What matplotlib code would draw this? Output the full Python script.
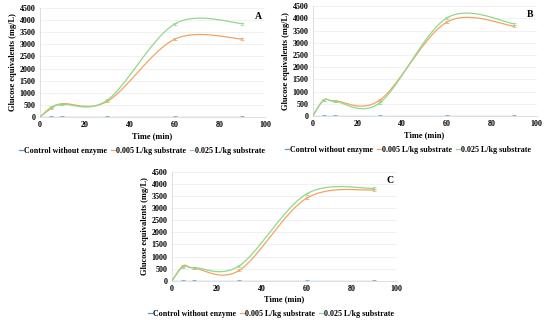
import numpy as np
import matplotlib
matplotlib.use("Agg")
import matplotlib.pyplot as plt
from matplotlib.lines import Line2D

time_min = [0, 5, 10, 30, 60, 90]
series_names = ["Control without enzyme", "0.005 L/kg substrate", "0.025 L/kg substrate"]
colors = ["#5B9BD5", "#F4A460", "#8FD98F"]

A_control = [0, 0, 0, 0, 0, 0]
A_low = [0, 350, 550, 650, 3220, 3220]
A_high = [0, 400, 520, 700, 3850, 3860]

B_control = [0, 0, 0, 0, 0, 0]
B_low = [0, 650, 620, 650, 3850, 3680]
B_high = [0, 660, 600, 540, 4020, 3780]

C_control = [0, 0, 0, 0, 0, 0]
C_low = [0, 620, 520, 430, 3420, 3760]
C_high = [0, 580, 540, 620, 3600, 3820]

panels = [
    ("A", [A_control, A_low, A_high], [0.0727, 0.639, 0.409, 0.336], 0.258, 0.535),
    ("B", [B_control, B_low, B_high], [0.5685, 0.642, 0.407, 0.339], 0.742, 0.537),
    ("C", [C_control, C_low, C_high], [0.3127, 0.1336, 0.4085, 0.3354], 0.493, 0.030),
]

serif = ["Liberation Serif", "DejaVu Serif"]
fs = 5.8


def smooth(x, y, n=30):
    P = np.column_stack([x, y]).astype(float)
    out = [P[0]]
    m = len(P)
    for i in range(m - 1):
        p0 = P[i - 1] if i > 0 else P[i]
        p1 = P[i]
        p2 = P[i + 1]
        p3 = P[i + 2] if i + 2 < m else P[i + 1]
        b1 = p1 + (p2 - p0) / 6.0
        b2 = p2 - (p3 - p1) / 6.0
        t = np.linspace(0, 1, n)[1:, None]
        seg = ((1 - t) ** 3) * p1 + 3 * ((1 - t) ** 2) * t * b1 + 3 * (1 - t) * t ** 2 * b2 + t ** 3 * p2
        out.extend(seg)
    out = np.array(out)
    return out[:, 0], out[:, 1]


fig = plt.figure(figsize=(5.5, 3.24), dpi=100)

for label, data, rect, lx, ly in panels:
    ax = fig.add_axes(rect)
    for vals, c in zip(data, colors):
        sx, sy = smooth(time_min, vals)
        ax.plot(sx, sy, color=c, lw=0.9, zorder=3)
        ax.errorbar(time_min[1:], vals[1:], yerr=40, fmt="none", ecolor=c,
                    elinewidth=0.5, capsize=1.2, capthick=0.5, zorder=3)
    ax.set_xlim(0, 100)
    ax.set_ylim(0, 4500)
    ax.set_xticks(range(0, 101, 20))
    ax.set_yticks(range(0, 4501, 500))
    ax.grid(axis="y", color="#ececec", lw=0.5)
    ax.set_axisbelow(True)
    for s in ["top", "right"]:
        ax.spines[s].set_visible(False)
    for s in ["left", "bottom"]:
        ax.spines[s].set_color("#d9d9d9")
        ax.spines[s].set_linewidth(0.6)
    ax.tick_params(length=0, labelsize=fs, pad=3)
    for t in ax.get_xticklabels() + ax.get_yticklabels():
        t.set_fontfamily(serif)
        t.set_fontweight("bold")
    ax.set_xlabel("Time (min)", fontsize=fs + 0.2, fontfamily=serif, fontweight="bold", labelpad=2)
    ax.set_ylabel("Glucose equivalents (mg/L)", fontsize=fs + 0.2, fontfamily=serif,
                  fontweight="bold", labelpad=2)
    ax.text(0.985, 0.92, label, transform=ax.transAxes, ha="right", va="center",
            fontsize=7, fontfamily=serif, fontweight="bold")
    handles = [Line2D([], [], color=c, lw=0.9) for c in colors]
    fig.legend(handles, series_names, loc="center", bbox_to_anchor=(lx, ly), ncol=3,
               frameon=False, handlelength=0.5, handletextpad=0.15, columnspacing=0.45,
               prop={"family": serif, "weight": "bold", "size": fs})

fig.savefig("out.png", dpi=100)
